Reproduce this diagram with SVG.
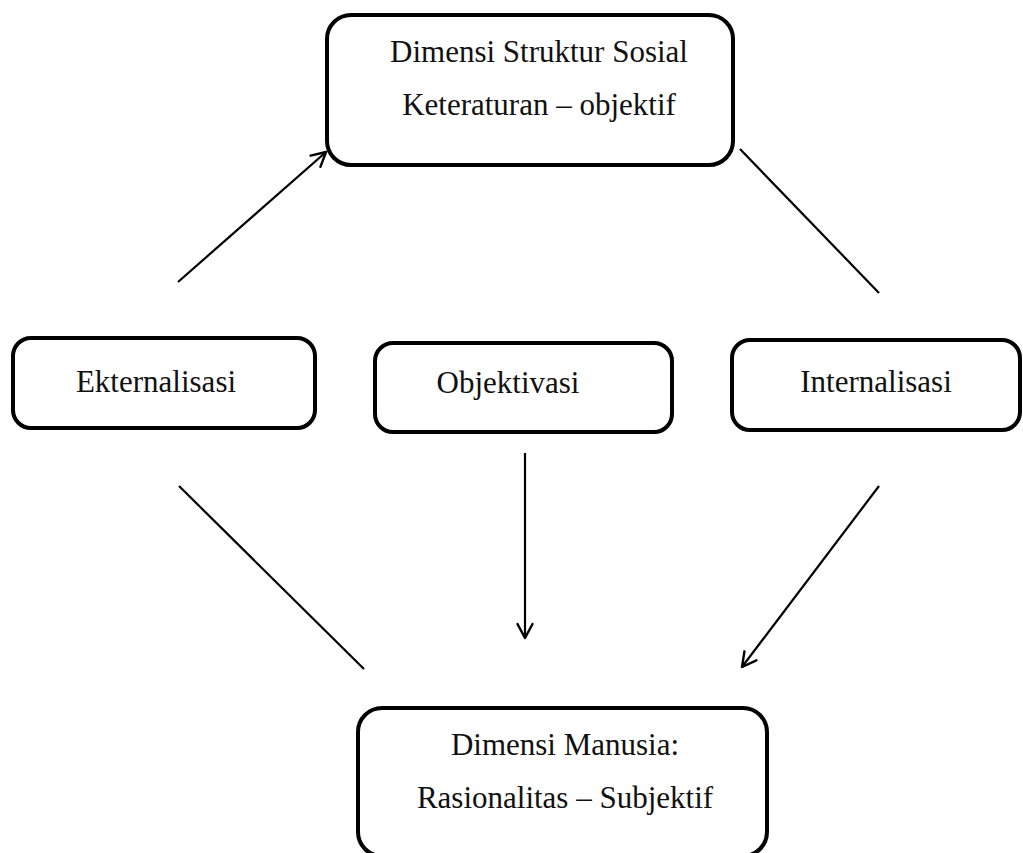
<svg xmlns="http://www.w3.org/2000/svg" width="1023" height="853" viewBox="0 0 1023 853">
<style>
.box{fill:#fff;stroke:#000;stroke-width:4}
.lbl{font-family:"Liberation Serif","Times New Roman",serif;font-size:31px;fill:#111;text-anchor:middle}
.con{stroke:#000;stroke-width:2.2;fill:none}
</style>
<defs>
<marker id="arr" viewBox="0 0 18 18" refX="16" refY="9" markerWidth="18" markerHeight="18" markerUnits="userSpaceOnUse" orient="auto">
<path d="M2,1.5 L16,9 L2,16.5" fill="none" stroke="#000" stroke-width="2.4" stroke-linecap="round" stroke-linejoin="round"/>
</marker>
</defs>
<rect width="1023" height="853" fill="#fff"/>
<g id="connectors">
<line class="con" x1="178" y1="282" x2="326" y2="152" marker-end="url(#arr)"/>
<line class="con" x1="740" y1="149" x2="879" y2="293"/>
<line class="con" x1="179" y1="486" x2="364" y2="669"/>
<line class="con" x1="525" y1="453" x2="525" y2="638" marker-end="url(#arr)"/>
<line class="con" x1="879" y1="486" x2="742" y2="667" marker-end="url(#arr)"/>
</g>
<g id="node-struktur">
<rect class="box" x="327" y="15" width="406" height="150" rx="24"/>
<text class="lbl" x="539" y="62">Dimensi Struktur Sosial</text>
<text class="lbl" x="539" y="115">Keteraturan – objektif</text>
</g>
<g id="node-eksternalisasi">
<rect class="box" x="13" y="338" width="302" height="90" rx="18"/>
<text class="lbl" x="156" y="392">Ekternalisasi</text>
</g>
<g id="node-objektivasi">
<rect class="box" x="375" y="343" width="297" height="89" rx="18"/>
<text class="lbl" x="508" y="393">Objektivasi</text>
</g>
<g id="node-internalisasi">
<rect class="box" x="732" y="340" width="288" height="90" rx="18"/>
<text class="lbl" x="876" y="392">Internalisasi</text>
</g>
<g id="node-manusia">
<rect class="box" x="358" y="708" width="409" height="148" rx="24"/>
<text class="lbl" x="565" y="755">Dimensi Manusia:</text>
<text class="lbl" x="565" y="808">Rasionalitas – Subjektif</text>
</g>
</svg>
